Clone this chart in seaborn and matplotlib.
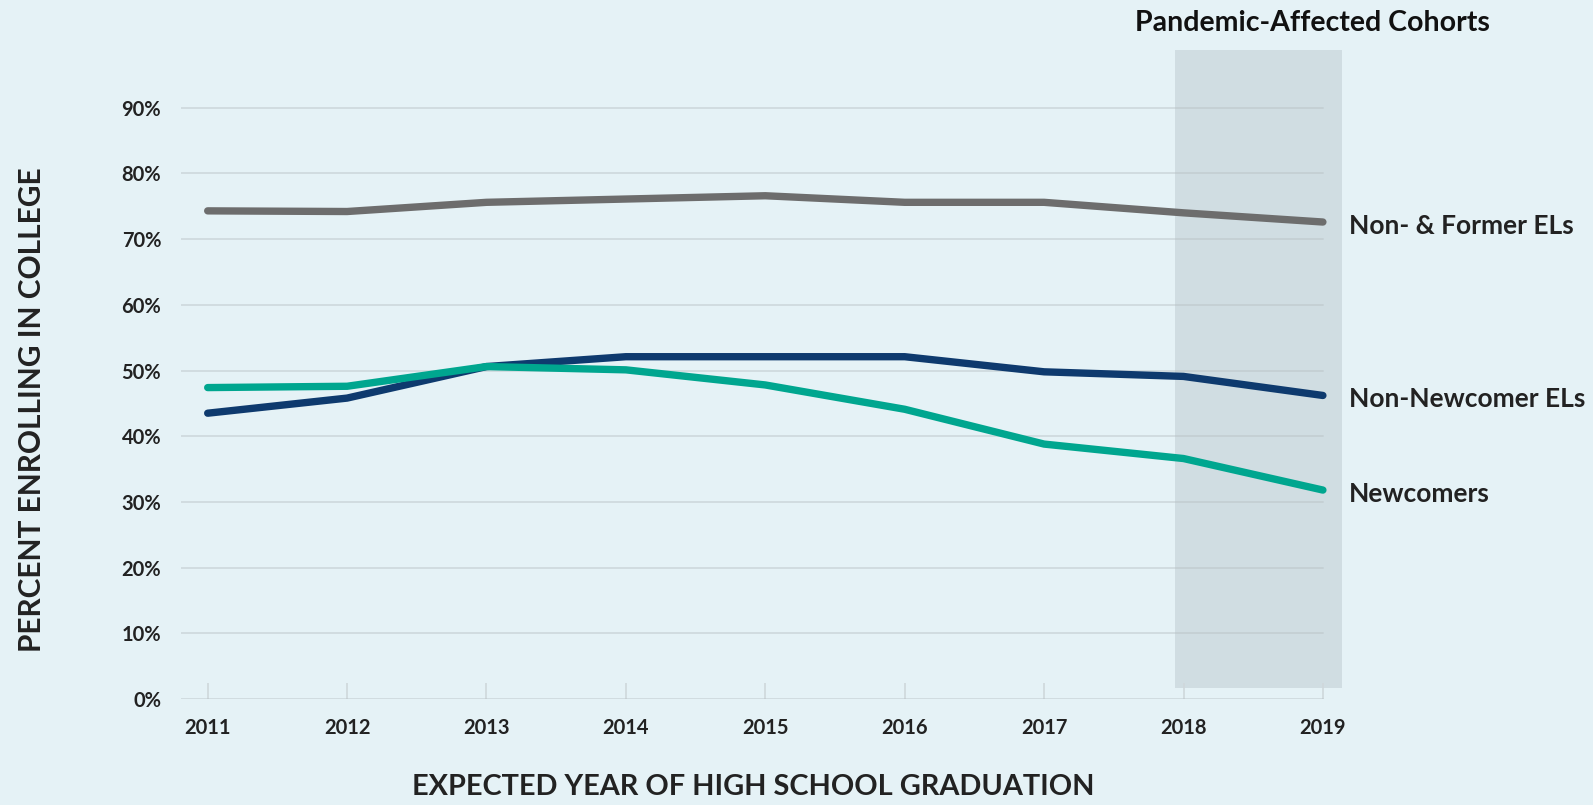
import pandas as pd
import matplotlib.pyplot as plt
import seaborn as sns

years = [2011, 2012, 2013, 2014, 2015, 2016, 2017, 2018, 2019]
non_former_els = [74.3, 74.2, 75.6, 76.1, 76.6, 75.6, 75.6, 74.0, 72.6]
non_newcomer_els = [43.5, 45.8, 50.6, 52.1, 52.1, 52.1, 49.8, 49.1, 46.2]
newcomers = [47.4, 47.6, 50.6, 50.1, 47.8, 44.1, 38.8, 36.6, 31.8]

series_names = ["Non- & Former ELs", "Non-Newcomer ELs", "Newcomers"]
series_colors = ["#6d6d6d", "#0e3a6e", "#00a68f"]
y_ticks = [0, 10, 20, 30, 40, 50, 60, 70, 80, 90]

df = pd.DataFrame({
    "year": years * 3,
    "pct": non_former_els + non_newcomer_els + newcomers,
    "group": [n for n in series_names for _ in years],
})

sns.set_theme(style="white")
plt.rcParams["font.family"] = ["Lato", "DejaVu Sans"]

bg = "#e5f2f6"
fig = plt.figure(figsize=(15.93, 8.05), dpi=100, facecolor=bg)
ax = fig.add_axes([0.1134, 0.1317, 0.8427 - 0.1134, 0.9478 - 0.1317])
ax.set_facecolor(bg)

# pandemic shading
ax.axvspan(2017.94, 2019.14, ymin=0.017, ymax=0.988, color="#d0dde2", zorder=0, lw=0)

# gridlines
for t in y_ticks:
    ax.plot([2010.806, 2019.0], [t, t], color="#b5bec2", alpha=0.45, lw=1.3, zorder=1)

sns.lineplot(
    data=df, x="year", y="pct", hue="group",
    palette=dict(zip(series_names, series_colors)),
    linewidth=5.3, legend=False, ax=ax, zorder=3,
    solid_capstyle="round", solid_joinstyle="round",
)

ax.set_xlim(2010.806, 2019.14)
ax.set_ylim(0, 100)
for s in ax.spines.values():
    s.set_visible(False)

ax.set_xticks(years)
ax.set_xticklabels([str(y) for y in years], fontsize=14.5, fontweight="bold", color="#222222")
ax.set_yticks(y_ticks)
ax.set_yticklabels([f"{t}%" for t in y_ticks], fontsize=14.5, fontweight="bold", color="#222222")
ax.tick_params(axis="x", direction="in", length=11.5, width=1.2, color="#cfd8db", pad=14, bottom=True)
ax.tick_params(axis="y", length=0, pad=14)

ax.set_xlabel("EXPECTED YEAR OF HIGH SCHOOL GRADUATION", fontsize=20.8, fontweight="bold",
              color="#222222", va="center")
ax.xaxis.set_label_coords(0.4927, -0.134)
ax.set_ylabel("PERCENT ENROLLING IN COLLEGE", fontsize=21.5, fontweight="bold",
              color="#222222", va="center")
ax.yaxis.set_label_coords(-0.1276, 0.441)

# end labels
for name, vals in zip(series_names, [non_former_els, non_newcomer_els, newcomers]):
    ax.annotate(name, xy=(years[-1], vals[-1]), xytext=(18.5, -2.5), textcoords="offset points",
                va="center", ha="left", fontsize=19, fontweight="bold", color="#222222",
                annotation_clip=False)

fig.text(0.8236, 0.972, "Pandemic-Affected Cohorts", ha="center", va="center",
         fontsize=20.5, fontweight="bold", color="#111111")

fig.savefig("out.png", dpi=100, facecolor=bg)
